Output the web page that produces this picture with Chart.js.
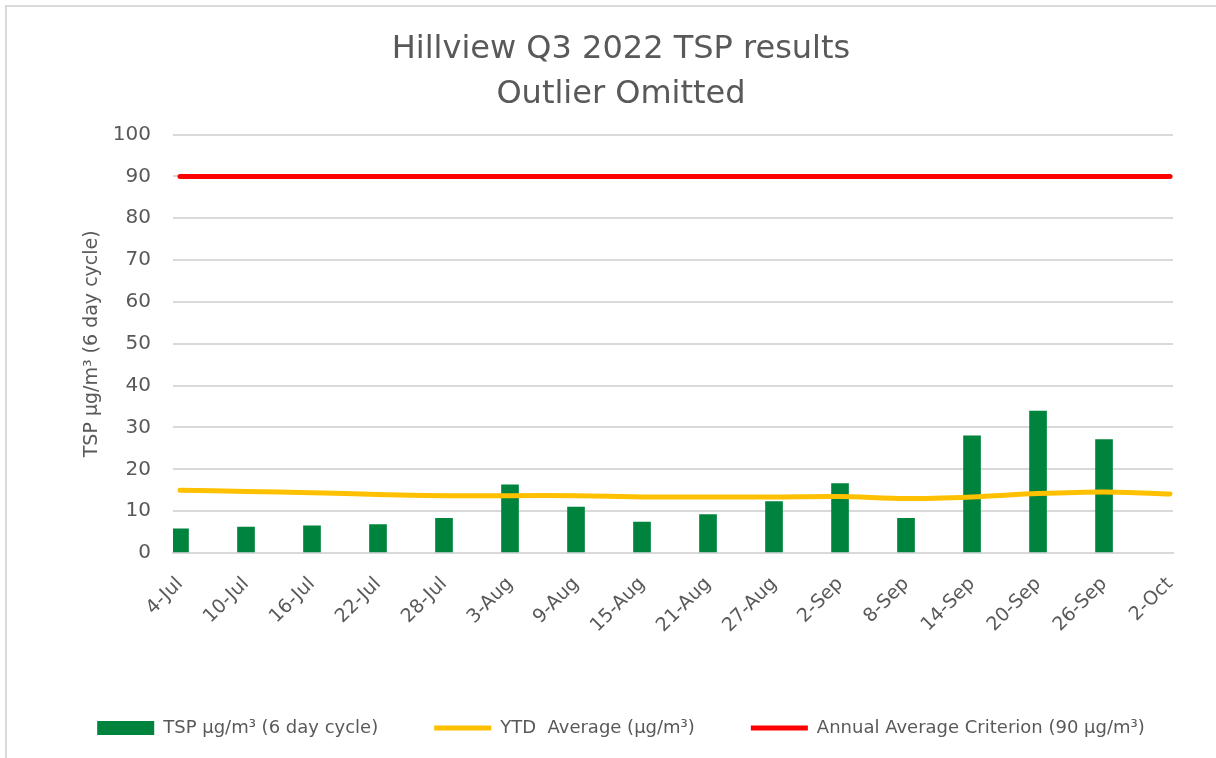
<!DOCTYPE html>
<html>
<head>
<meta charset="utf-8">
<script src="https://cdn.jsdelivr.net/npm/chart.js@4/dist/chart.umd.min.js"></script>
<style>
    body { margin: 0; background: #fff; overflow: hidden; }
    #frame { position: absolute; left: 5px; top: 5px; width: 1400px; height: 1000px; border: 2px solid #d9d9d9; }
    #wrap { position: absolute; left: 0; top: 0; width: 1216px; height: 758px; }
</style>
</head>
<body>
<div id="frame"></div>
<div id="wrap"><canvas id="chart"></canvas></div>
<script>
const dates = ['4-Jul', '10-Jul', '16-Jul', '22-Jul', '28-Jul', '3-Aug', '9-Aug', '15-Aug',
    '21-Aug', '27-Aug', '2-Sep', '8-Sep', '14-Sep', '20-Sep', '26-Sep', '2-Oct']
const tspValues = [5.8, 6.2, 6.5, 6.8, 8.3, 16.3, 11.0, 7.4, 9.2, 12.3, 16.6, 8.3, 28.0, 33.9, 27.1, null]
const ytdAverage = [15.0, 14.7, 14.4, 14.0, 13.7, 13.7, 13.7, 13.4, 13.4, 13.4, 13.5, 13.0, 13.4, 14.2, 14.6, 14.1]
const criterion = [90, 90, 90, 90, 90, 90, 90, 90, 90, 90, 90, 90, 90, 90, 90, 90]
const yTicks = [0, 10, 20, 30, 40, 50, 60, 70, 80, 90, 100]

const textColor = '#595959'
const fontFamily = "'DejaVu Sans', sans-serif"

// date axis is drawn as a linear index axis so the first bar sits just inside the plot
const toPoints = values => values.map((y, i) => ({ x: i, y: y }))

function renderChart() {
    const chartData = {
        datasets: [
            {
                type: 'bar',
                label: 'TSP µg/m³ (6 day cycle)',
                data: toPoints(tspValues),
                backgroundColor: '#00843d',
                barThickness: 17,
                pointStyle: 'rect',
                order: 3
            },
            {
                type: 'line',
                label: 'YTD  Average (µg/m³)',
                data: toPoints(ytdAverage),
                borderColor: '#ffc000',
                backgroundColor: '#ffc000',
                borderWidth: 5,
                borderCapStyle: 'round',
                pointRadius: 0,
                tension: 0.3,
                pointStyle: 'line',
                order: 2
            },
            {
                type: 'line',
                label: 'Annual Average Criterion (90 µg/m³)',
                data: toPoints(criterion),
                borderColor: '#ff0000',
                backgroundColor: '#ff0000',
                borderWidth: 5,
                borderCapStyle: 'round',
                pointRadius: 0,
                pointStyle: 'line',
                order: 1
            }
        ]
    }

    const chartConfig = {
        data: chartData,
        options: {
            responsive: true,
            maintainAspectRatio: false,
            animation: false,
            layout: { padding: { left: 26, right: 0, top: 0, bottom: 11 } },
            plugins: {
                title: {
                    display: true,
                    text: ['Hillview Q3 2022 TSP results', 'Outlier Omitted'],
                    color: textColor,
                    font: { family: fontFamily, size: 32, weight: 'normal', lineHeight: 1.4 },
                    padding: { top: 27, bottom: 18 }
                },
                legend: {
                    position: 'bottom',
                    labels: {
                        usePointStyle: true,
                        pointStyleWidth: 57,
                        boxHeight: 14,
                        padding: 56,
                        color: textColor,
                        font: { family: fontFamily, size: 18 },
                        sort: (a, b) => a.datasetIndex - b.datasetIndex
                    }
                },
                tooltip: { enabled: false }
            },
            scales: {
                x: {
                    type: 'linear',
                    offset: false,
                    min: -0.106,
                    max: 15.045,
                    afterBuildTicks: scale => {
                        scale.ticks = dates.map((d, i) => ({ value: i }))
                    },
                    afterFit: scale => { scale.height = 110 },
                    ticks: {
                        autoSkip: false,
                        minRotation: 45,
                        maxRotation: 45,
                        padding: 12,
                        color: textColor,
                        font: { family: fontFamily, size: 19 },
                        callback: value => dates[value]
                    },
                    grid: { display: false },
                    border: { display: true, color: '#d9d9d9', width: 2 }
                },
                y: {
                    min: 0,
                    max: 100,
                    afterBuildTicks: scale => {
                        scale.ticks = yTicks.map(v => ({ value: v }))
                    },
                    afterFit: scale => { scale.width = 147 },
                    ticks: {
                        padding: 22,
                        color: textColor,
                        font: { family: fontFamily, size: 20 }
                    },
                    grid: { color: '#d9d9d9', lineWidth: 2, drawTicks: false },
                    border: { display: false },
                    title: {
                        display: true,
                        text: 'TSP µg/m³ (6 day cycle)',
                        color: textColor,
                        font: { family: fontFamily, size: 19 },
                        padding: { top: 55 }
                    }
                },
                // empty right-hand spacer so the legend can use the full width
                spacer: {
                    position: 'right',
                    ticks: { display: false },
                    grid: { display: false },
                    border: { display: false },
                    afterFit: scale => { scale.width = 43 }
                }
            }
        }
    }

    const chartCanvas = document.getElementById('chart')
    new Chart(chartCanvas, chartConfig)
}

renderChart()
</script>
</body>
</html>
